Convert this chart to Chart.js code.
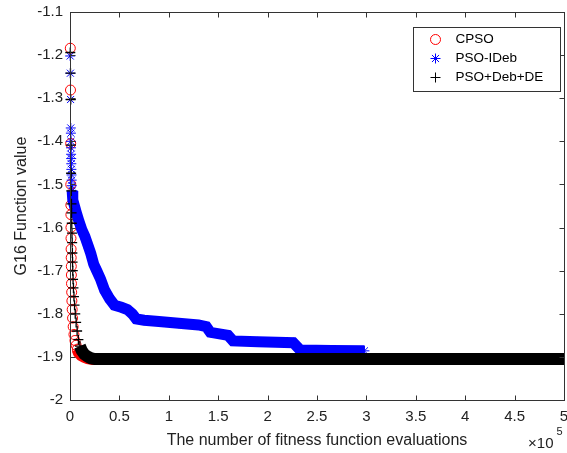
<!DOCTYPE html>
<html>
<head>
<meta charset="utf-8">
<script src="https://cdn.jsdelivr.net/npm/chart.js@4.4.0/dist/chart.umd.min.js"></script>
<style>
  html, body { margin: 0; padding: 0; background: #fff; }
  #wrap { width: 567px; height: 453px; }
</style>
</head>
<body>
<div id="wrap"><canvas id="g16Chart" width="567" height="453"></canvas></div>
<script>
// Best G16 value found vs. number of fitness function evaluations
const cpsoEvals = [300, 500, 700, 800, 850, 900, 950, 1000, 1100, 1200, 1300, 1400, 1500, 1700,
    1900, 2200, 2600, 3200, 4000, 5000, 6200, 7500, 9000, 11500, 14500, 18000, 23000, 500000];
const cpsoValues = [-1.184, -1.281, -1.405, -1.50, -1.548, -1.57, -1.60, -1.625, -1.65, -1.67, -1.69, -1.71, -1.73, -1.75,
    -1.77, -1.79, -1.81, -1.83, -1.848, -1.862, -1.873, -1.882, -1.89, -1.896, -1.90, -1.903, -1.905, -1.905];

const psoIdebEvals = [200, 400, 600, 800, 900, 950, 1000, 1100, 1200, 1300, 1400, 1550, 1700, 1900,
    2200, 2600, 3000, 4500, 6500, 9000, 12000, 15000, 18000, 21000, 24000, 27000, 31000, 35000,
    40000, 45000, 52000, 58000, 63000, 67000, 75000, 90000, 110000, 130000, 138000, 142000, 160000,
    165000, 190000, 226000, 233000, 265000, 298000];
const psoIdebValues = [-1.202, -1.242, -1.303, -1.369, -1.381, -1.40, -1.415, -1.43, -1.44, -1.452, -1.465, -1.478, -1.49, -1.503,
    -1.515, -1.526, -1.536, -1.55, -1.566, -1.585, -1.605, -1.62, -1.64, -1.66, -1.685, -1.70, -1.72, -1.745,
    -1.765, -1.78, -1.785, -1.79, -1.80, -1.812, -1.815, -1.818, -1.822, -1.826, -1.83, -1.843, -1.85,
    -1.863, -1.865, -1.867, -1.884, -1.885, -1.886];

const psoDebDeEvals = [300, 500, 700, 900, 1100, 1300, 1500, 1600, 1800, 2000, 2200, 2400, 2600, 2800,
    3100, 3500, 4000, 4600, 5300, 6200, 7200, 8500, 10000, 12000, 14500, 17500, 21000, 25000, 500000];
const psoDebDeValues = [-1.194, -1.242, -1.303, -1.409, -1.474, -1.515, -1.545, -1.566, -1.59, -1.613, -1.635, -1.659, -1.68, -1.70,
    -1.72, -1.74, -1.76, -1.78, -1.80, -1.82, -1.84, -1.86, -1.875, -1.886, -1.894, -1.899, -1.903, -1.905, -1.905];

const xTickValues = [0, 50000, 100000, 150000, 200000, 250000, 300000, 350000, 400000, 450000, 500000];
const xTickLabels = ['0', '0.5', '1', '1.5', '2', '2.5', '3', '3.5', '4', '4.5', '5'];
const yTickValues = [-2, -1.9, -1.8, -1.7, -1.6, -1.5, -1.4, -1.3, -1.2, -1.1];
const yTickLabels = ['-2', '-1.9', '-1.8', '-1.7', '-1.6', '-1.5', '-1.4', '-1.3', '-1.2', '-1.1'];

const FONT = "'Liberation Sans', Arial, sans-serif";
const TEXT = '#222';

// markers overlap so densely in the converged part that they read as a solid band,
// so from bandFrom on the points are joined by a thick stroke of the marker colour
function series(label, evals, values, look) {
    return {
        label: label,
        data: evals.map((x, i) => ({ x: x, y: values[i] })),
        pointStyle: look.marker,
        pointRadius: look.size,
        pointBorderWidth: look.weight,
        pointBorderColor: look.color,
        pointBackgroundColor: 'rgba(0,0,0,0)',
        pointHoverRadius: look.size,
        borderColor: look.color,
        borderWidth: look.band,
        segment: {
            borderColor: ctx => ctx.p0DataIndex >= look.bandFrom ? look.color : 'rgba(0,0,0,0)'
        },
        fill: false,
        order: look.order,
        clip: { left: 8, top: 8, right: 1, bottom: 8 }
    };
}

function drawMarker(ctx, style, x, y, r) {
    ctx.beginPath();
    if (style === 'circle') {
        ctx.arc(x, y, r, 0, Math.PI * 2);
    } else {
        ctx.moveTo(x - r, y); ctx.lineTo(x + r, y);
        ctx.moveTo(x, y - r); ctx.lineTo(x, y + r);
        if (style === 'star') {
            const d = r * Math.SQRT1_2;
            ctx.moveTo(x - d, y - d); ctx.lineTo(x + d, y + d);
            ctx.moveTo(x - d, y + d); ctx.lineTo(x + d, y - d);
        }
    }
    ctx.stroke();
}

// axes box with inward ticks on all four sides, the boxed legend and the x10^5 exponent
const boxAndLegend = {
    id: 'boxAndLegend',
    afterDatasetsDraw(chart) {
        const { ctx, chartArea: a, scales } = chart;
        const L = Math.round(a.left) + 0.5, R = Math.round(a.right) + 0.5;
        const T = Math.round(a.top) + 0.5, B = Math.round(a.bottom) + 0.5;
        ctx.save();
        ctx.strokeStyle = '#333';
        ctx.lineWidth = 1;
        ctx.strokeRect(L, T, R - L, B - T);
        ctx.beginPath();
        xTickValues.forEach(v => {
            const px = Math.round(scales.x.getPixelForValue(v)) + 0.5;
            ctx.moveTo(px, B); ctx.lineTo(px, B - 5);
            ctx.moveTo(px, T); ctx.lineTo(px, T + 5);
        });
        yTickValues.forEach(v => {
            const py = Math.round(scales.y.getPixelForValue(v)) + 0.5;
            ctx.moveTo(L, py); ctx.lineTo(L + 5, py);
            ctx.moveTo(R, py); ctx.lineTo(R - 5, py);
        });
        ctx.stroke();

        // legend
        const w = 147, h = 64;
        const bx = R - 4 - w, by = T + 15;
        ctx.fillStyle = '#fff';
        ctx.fillRect(bx, by, w, h);
        ctx.strokeRect(bx, by, w, h);
        ctx.font = '13.5px ' + FONT;
        ctx.textBaseline = 'middle';
        ctx.textAlign = 'left';
        chart.data.datasets.forEach((ds, i) => {
            const ry = by + 12 + i * 19;
            ctx.strokeStyle = ds.pointBorderColor;
            ctx.lineWidth = 1;
            drawMarker(ctx, ds.pointStyle, bx + 22, ry, ds.pointRadius);
            ctx.fillStyle = '#000';
            ctx.fillText(ds.label, bx + 42, ry);
        });

        // exponent of the x axis
        ctx.fillStyle = TEXT;
        ctx.textBaseline = 'alphabetic';
        ctx.textAlign = 'right';
        ctx.font = '15px ' + FONT;
        ctx.fillText('\u00d710', R - 11, 448);
        ctx.textAlign = 'left';
        ctx.font = '11px ' + FONT;
        ctx.fillText('5', R - 8, 435);
        ctx.restore();
    }
};

new Chart(document.getElementById('g16Chart'), {
    type: 'line',
    data: {
        datasets: [
            series('CPSO', cpsoEvals, cpsoValues,
                { marker: 'circle', size: 5, weight: 1, color: '#ff0000', band: 12, bandFrom: 21, order: 3 }),
            series('PSO-IDeb', psoIdebEvals, psoIdebValues,
                { marker: 'star', size: 5, weight: 1, color: '#0000ff', band: 11, bandFrom: 14, order: 2 }),
            series('PSO+Deb+DE', psoDebDeEvals, psoDebDeValues,
                { marker: 'cross', size: 5, weight: 1.3, color: '#000000', band: 12, bandFrom: 22, order: 1 })
        ]
    },
    options: {
        responsive: false,
        animation: false,
        events: [],
        layout: { autoPadding: false, padding: { top: 12, right: 3, left: 0, bottom: 0 } },
        plugins: {
            legend: { display: false },
            tooltip: { enabled: false }
        },
        scales: {
            x: {
                type: 'linear',
                min: 0,
                max: 500000,
                grid: { display: false, drawTicks: false },
                border: { display: false },
                afterBuildTicks: s => { s.ticks = xTickValues.map(value => ({ value })); },
                afterFit: s => { s.paddingLeft = 0; s.paddingRight = 0; s.height = 53; },
                ticks: {
                    padding: 8,
                    autoSkip: false,
                    maxRotation: 0,
                    color: TEXT,
                    font: { family: FONT, size: 15 },
                    callback: (v, i) => xTickLabels[i]
                },
                title: {
                    display: true,
                    text: 'The number of fitness function evaluations',
                    color: TEXT,
                    font: { family: FONT, size: 16 },
                    padding: { top: 5, bottom: 3 }
                }
            },
            y: {
                type: 'linear',
                min: -2,
                max: -1.1,
                grid: { display: false, drawTicks: false },
                border: { display: false },
                afterBuildTicks: s => { s.ticks = yTickValues.map(value => ({ value })); },
                afterFit: s => { s.width = 70; s.paddingTop = 0; s.paddingBottom = 0; },
                ticks: {
                    padding: 7,
                    autoSkip: false,
                    color: TEXT,
                    font: { family: FONT, size: 15 },
                    callback: (v, i) => yTickLabels[i]
                },
                title: {
                    display: true,
                    text: 'G16 Function value',
                    color: TEXT,
                    font: { family: FONT, size: 16 },
                    padding: { top: 12, bottom: 5 }
                }
            }
        }
    },
    plugins: [boxAndLegend]
});
</script>
</body>
</html>
